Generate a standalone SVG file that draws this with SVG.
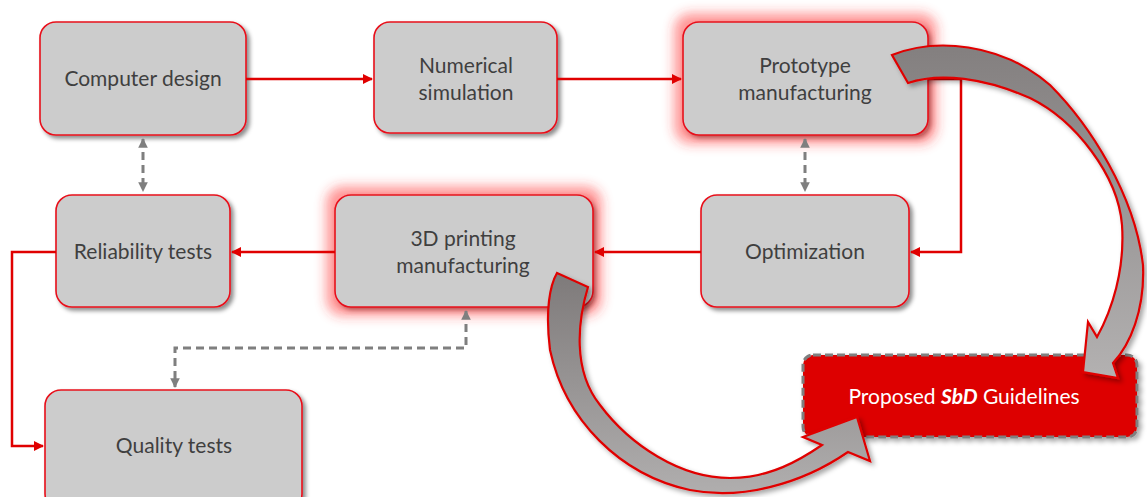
<svg xmlns="http://www.w3.org/2000/svg" width="1147" height="497" viewBox="0 0 1147 497">
<defs>
<style>
.box{fill:#cccccc;stroke:#e8101a;stroke-width:1.6}
.lbl{font-family:Lato,"Open Sans",sans-serif;font-size:21px;fill:#3f3f3f;text-anchor:middle}
.red{fill:none;stroke:#e00000;stroke-width:2.5}
.dash{fill:none;stroke:#7f7f7f;stroke-width:3;stroke-dasharray:8 5}
.big{stroke:#e00000;stroke-width:2.2;stroke-linejoin:miter}
</style>
<marker id="ra" viewBox="0 0 10 10" refX="9" refY="5" markerWidth="4" markerHeight="4" orient="auto-start-reverse" markerUnits="strokeWidth">
<path d="M0,0 L10,5 L0,10 Z" fill="#e00000"/>
</marker>
<marker id="ga" viewBox="0 0 10 10" refX="9" refY="5" markerWidth="3.2" markerHeight="3.2" orient="auto-start-reverse" markerUnits="strokeWidth">
<path d="M0,0 L10,5 L0,10 Z" fill="#7f7f7f"/>
</marker>
<filter id="sh" x="-10%" y="-10%" width="125%" height="130%">
<feGaussianBlur in="SourceAlpha" stdDeviation="2"/>
<feOffset dx="3" dy="3" result="b"/>
<feFlood flood-color="#000" flood-opacity="0.45"/>
<feComposite in2="b" operator="in" result="s"/>
<feMerge><feMergeNode in="s"/><feMergeNode in="SourceGraphic"/></feMerge>
</filter>
<filter id="glow" x="-25%" y="-40%" width="150%" height="180%">
<feMorphology in="SourceAlpha" operator="dilate" radius="8" result="d"/>
<feGaussianBlur in="d" stdDeviation="6" result="g"/>
<feFlood flood-color="#ff3030" flood-opacity="0.5"/>
<feComposite in2="g" operator="in" result="glow"/>
<feGaussianBlur in="SourceAlpha" stdDeviation="2"/>
<feOffset dx="3" dy="3" result="b"/>
<feFlood flood-color="#000" flood-opacity="0.45"/>
<feComposite in2="b" operator="in" result="s"/>
<feMerge><feMergeNode in="glow"/><feMergeNode in="s"/><feMergeNode in="SourceGraphic"/></feMerge>
</filter>
<filter id="ash" x="-20%" y="-20%" width="140%" height="140%">
<feGaussianBlur in="SourceAlpha" stdDeviation="2.5"/>
<feOffset dx="3" dy="3" result="b"/>
<feFlood flood-color="#000" flood-opacity="0.35"/>
<feComposite in2="b" operator="in" result="s"/>
<feMerge><feMergeNode in="s"/><feMergeNode in="SourceGraphic"/></feMerge>
</filter>
<linearGradient id="ag1" x1="0" y1="0" x2="0" y2="1">
<stop offset="0" stop-color="#7e7a7a"/>
<stop offset="1" stop-color="#b0aeae"/>
</linearGradient>
<linearGradient id="ag2" x1="0" y1="0" x2="0" y2="1">
<stop offset="0" stop-color="#837f7f"/>
<stop offset="1" stop-color="#b3b1b1"/>
</linearGradient>
</defs>
<rect width="1147" height="497" fill="#ffffff"/>

<g id="computer-design">
<rect class="box" x="40" y="22" width="206" height="113" rx="16" filter="url(#sh)"/>
<text class="lbl" x="143" y="86">Computer design</text>
</g>
<g id="numerical-simulation">
<rect class="box" x="374" y="22" width="183" height="111" rx="16" filter="url(#sh)"/>
<text class="lbl" x="466" y="73">Numerical</text>
<text class="lbl" x="466" y="100">simulation</text>
</g>
<g id="prototype-manufacturing">
<rect class="box" x="683" y="22" width="245" height="113" rx="16" filter="url(#glow)"/>
<text class="lbl" x="805" y="73">Prototype</text>
<text class="lbl" x="805" y="100">manufacturing</text>
</g>
<g id="reliability-tests">
<rect class="box" x="56" y="195" width="174" height="112" rx="16" filter="url(#sh)"/>
<text class="lbl" x="143" y="259">Reliability tests</text>
</g>
<g id="3d-printing-manufacturing">
<rect class="box" x="335" y="195" width="258" height="112" rx="16" filter="url(#glow)"/>
<text class="lbl" x="463" y="246">3D printing</text>
<text class="lbl" x="463" y="273">manufacturing</text>
</g>
<g id="optimization">
<rect class="box" x="701" y="195" width="208" height="112" rx="16" filter="url(#sh)"/>
<text class="lbl" x="805" y="259">Optimization</text>
</g>
<g id="quality-tests">
<rect class="box" x="45" y="390" width="257" height="120" rx="16" filter="url(#sh)"/>
<text class="lbl" x="174" y="453">Quality tests</text>
</g>
<g id="proposed-guidelines">
<rect x="803" y="355" width="334" height="82" rx="10" fill="#dd0000" stroke="#7f7f7f" stroke-width="3" stroke-dasharray="8 4" filter="url(#ash)"/>
<text x="964" y="404" font-family="Lato,'Open Sans',sans-serif" font-size="21" fill="#ffffff" text-anchor="middle">Proposed <tspan font-weight="bold" font-style="italic">SbD</tspan> Guidelines</text>
</g>

<g id="connectors">
<path class="red" d="M246,79 H372" marker-end="url(#ra)"/>
<path class="red" d="M557,79 H681" marker-end="url(#ra)"/>
<path class="red" d="M928,79 H961 V252 H911" marker-end="url(#ra)"/>
<path class="red" d="M701,252 H595" marker-end="url(#ra)"/>
<path class="red" d="M335,252 H232" marker-end="url(#ra)"/>
<path class="red" d="M56,252 H12 V446 H43" marker-end="url(#ra)"/>
<path class="dash" d="M143,139 V191" marker-start="url(#ga)" marker-end="url(#ga)"/>
<path class="dash" d="M805,139 V191" marker-start="url(#ga)" marker-end="url(#ga)"/>
<path class="dash" d="M466,311 V348 H175 V387" marker-start="url(#ga)" marker-end="url(#ga)"/>
</g>

<g id="curved-arrows">
<path class="big" fill="url(#ag2)" filter="url(#ash)" d="M892,55 C935,38 1000,42 1050,85 C1090,125 1135,195 1143,265 C1145,310 1130,345 1113,363 L1118,378 L1083,372 L1088,322 L1097,337 C1112,310 1125,270 1122,225 C1118,175 1075,120 1030,98 C985,78 940,72 908,83 Z"/>
<path class="big" fill="url(#ag1)" filter="url(#ash)" d="M557,273 L588,287 C578,320 572,370 600,405 C630,445 680,478 730,478 C770,478 800,460 822,445 L803,437 L857,417 L870,461 L848,452 C800,485 740,500 690,490 C620,475 565,420 550,350 C545,310 550,285 557,273 Z"/>
</g>
</svg>
